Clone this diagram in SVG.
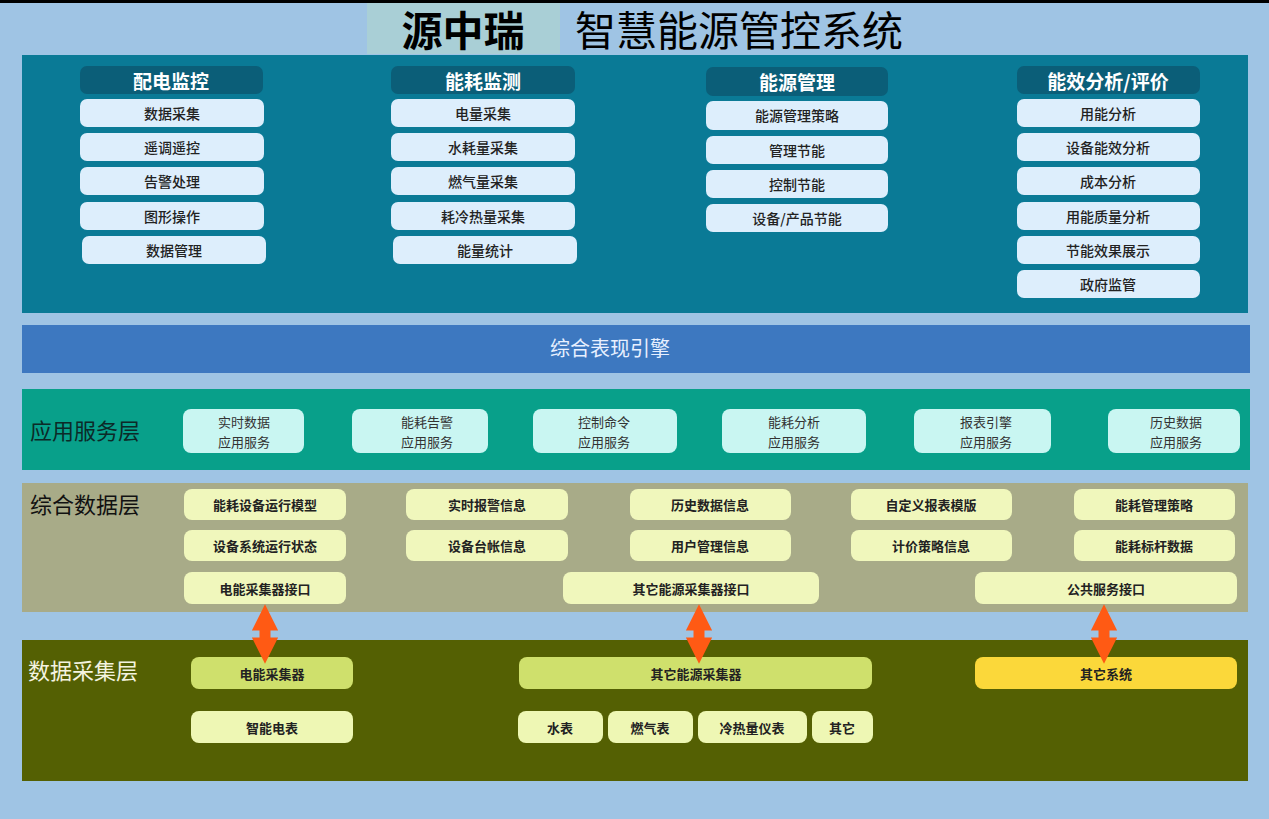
<svg xmlns="http://www.w3.org/2000/svg" width="1269" height="819" viewBox="0 0 1269 819">
<defs>
<style>
text{font-family:"Noto Sans CJK SC","Noto Sans",sans-serif;text-anchor:middle;dominant-baseline:central}
.hd rect{fill:#0b5e78}.hd text{fill:#fff;font-size:19px;font-weight:bold}
.it rect{fill:#ddeefc}.it text{fill:#222;font-size:14px;font-weight:500}
.ap rect{fill:#c9f6f2}.ap text{fill:#333;font-size:13px}
.dt rect{fill:#f0f7bc}.dt text{fill:#222;font-size:13px;font-weight:bold}
.aq rect{fill:#cfe06c}.aq text{fill:#222;font-size:13px;font-weight:bold}
.aq2 rect{fill:#eef7b4}.aq2 text{fill:#222;font-size:13px;font-weight:bold}
.lbl{font-size:22px;text-anchor:start}
</style>
<marker id="ah" viewBox="0 0 10 10" refX="4" refY="5" markerWidth="2.4" markerHeight="2.4" orient="auto-start-reverse"><path d="M0,0L10,5L0,10Z" fill="#ff5a14"/></marker>
</defs>
<rect width="1269" height="819" fill="#9fc4e4"/>
<rect width="1269" height="3" fill="#000"/>
<g id="title">
<rect x="367" y="3" width="193" height="51" fill="#a9cfd6"/>
<text x="463" y="28" font-size="41" font-weight="bold" fill="#000">源中瑞</text>
<text x="739" y="28" font-size="41" fill="#000">智慧能源管控系统</text>
</g>
<rect x="22" y="55" width="1226" height="258" fill="#0a7a96"/>
<g id="col1">
<g class="hd"><rect x="80" y="66" width="183" height="28" rx="7"/><text x="171" y="80">配电监控</text></g>
<g class="it"><rect x="80" y="99" width="184" height="28" rx="7"/><text x="172" y="113">数据采集</text></g>
<g class="it"><rect x="80" y="133" width="184" height="28" rx="7"/><text x="172" y="147">遥调遥控</text></g>
<g class="it"><rect x="80" y="167" width="184" height="28" rx="7"/><text x="172" y="181">告警处理</text></g>
<g class="it"><rect x="80" y="202" width="184" height="28" rx="7"/><text x="172" y="216">图形操作</text></g>
<g class="it"><rect x="82" y="236" width="184" height="28" rx="7"/><text x="174" y="250">数据管理</text></g>
</g>
<g id="col2">
<g class="hd"><rect x="391" y="66" width="184" height="28" rx="7"/><text x="483" y="80">能耗监测</text></g>
<g class="it"><rect x="391" y="99" width="184" height="28" rx="7"/><text x="483" y="113">电量采集</text></g>
<g class="it"><rect x="391" y="133" width="184" height="28" rx="7"/><text x="483" y="147">水耗量采集</text></g>
<g class="it"><rect x="391" y="167" width="184" height="28" rx="7"/><text x="483" y="181">燃气量采集</text></g>
<g class="it"><rect x="391" y="202" width="184" height="28" rx="7"/><text x="483" y="216">耗冷热量采集</text></g>
<g class="it"><rect x="393" y="236" width="184" height="28" rx="7"/><text x="485" y="250">能量统计</text></g>
</g>
<g id="col3">
<g class="hd"><rect x="706" y="67" width="182" height="29" rx="7"/><text x="797" y="81">能源管理</text></g>
<g class="it"><rect x="706" y="101" width="182" height="29" rx="7"/><text x="797" y="115">能源管理策略</text></g>
<g class="it"><rect x="706" y="136" width="182" height="28" rx="7"/><text x="797" y="150">管理节能</text></g>
<g class="it"><rect x="706" y="170" width="182" height="28" rx="7"/><text x="797" y="184">控制节能</text></g>
<g class="it"><rect x="706" y="204" width="182" height="28" rx="7"/><text x="797" y="218">设备/产品节能</text></g>
</g>
<g id="col4">
<g class="hd"><rect x="1017" y="66" width="183" height="28" rx="7"/><text x="1108" y="80">能效分析/评价</text></g>
<g class="it"><rect x="1017" y="99" width="183" height="28" rx="7"/><text x="1108" y="113">用能分析</text></g>
<g class="it"><rect x="1017" y="133" width="183" height="28" rx="7"/><text x="1108" y="147">设备能效分析</text></g>
<g class="it"><rect x="1017" y="167" width="183" height="28" rx="7"/><text x="1108" y="181">成本分析</text></g>
<g class="it"><rect x="1017" y="202" width="183" height="28" rx="7"/><text x="1108" y="216">用能质量分析</text></g>
<g class="it"><rect x="1017" y="236" width="183" height="28" rx="7"/><text x="1108" y="250">节能效果展示</text></g>
<g class="it"><rect x="1017" y="270" width="183" height="28" rx="7"/><text x="1108" y="284">政府监管</text></g>
</g>
<g id="engine"><rect x="22" y="325" width="1228" height="48" fill="#3d78c0"/><text x="610" y="347" font-size="20" fill="#e8f0ff">综合表现引擎</text></g>
<g id="app">
<rect x="22" y="389" width="1228" height="81" fill="#08a08a"/>
<text class="lbl" x="30" y="429" fill="#0c2a28">应用服务层</text>
<g class="ap"><rect x="183" y="409" width="121" height="44" rx="8"/><text x="244" y="421">实时数据</text><text x="244" y="441">应用服务</text></g>
<g class="ap"><rect x="352" y="409" width="136" height="44" rx="8"/><text x="427" y="421">能耗告警</text><text x="427" y="441">应用服务</text></g>
<g class="ap"><rect x="533" y="409" width="144" height="44" rx="8"/><text x="604" y="421">控制命令</text><text x="604" y="441">应用服务</text></g>
<g class="ap"><rect x="722" y="409" width="144" height="44" rx="8"/><text x="794" y="421">能耗分析</text><text x="794" y="441">应用服务</text></g>
<g class="ap"><rect x="914" y="409" width="137" height="44" rx="8"/><text x="986" y="421">报表引擎</text><text x="986" y="441">应用服务</text></g>
<g class="ap"><rect x="1108" y="409" width="132" height="44" rx="8"/><text x="1176" y="421">历史数据</text><text x="1176" y="441">应用服务</text></g>
</g>
<g id="data">
<rect x="22" y="483" width="1226" height="129" fill="#a8ab88"/>
<text class="lbl" x="30" y="503" fill="#111">综合数据层</text>
<g class="dt"><rect x="184" y="489" width="162" height="31" rx="8"/><text x="265" y="504">能耗设备运行模型</text></g>
<g class="dt"><rect x="406" y="489" width="162" height="31" rx="8"/><text x="487" y="504">实时报警信息</text></g>
<g class="dt"><rect x="630" y="489" width="161" height="31" rx="8"/><text x="710" y="504">历史数据信息</text></g>
<g class="dt"><rect x="851" y="489" width="161" height="31" rx="8"/><text x="931" y="504">自定义报表模版</text></g>
<g class="dt"><rect x="1074" y="489" width="161" height="31" rx="8"/><text x="1154" y="504">能耗管理策略</text></g>
<g class="dt"><rect x="184" y="530" width="162" height="31" rx="8"/><text x="265" y="545">设备系统运行状态</text></g>
<g class="dt"><rect x="406" y="530" width="162" height="31" rx="8"/><text x="487" y="545">设备台帐信息</text></g>
<g class="dt"><rect x="630" y="530" width="161" height="31" rx="8"/><text x="710" y="545">用户管理信息</text></g>
<g class="dt"><rect x="851" y="530" width="161" height="31" rx="8"/><text x="931" y="545">计价策略信息</text></g>
<g class="dt"><rect x="1074" y="530" width="161" height="31" rx="8"/><text x="1154" y="545">能耗标杆数据</text></g>
<g class="dt"><rect x="184" y="572" width="162" height="32" rx="8"/><text x="265" y="588">电能采集器接口</text></g>
<g class="dt"><rect x="563" y="572" width="256" height="32" rx="8"/><text x="691" y="588">其它能源采集器接口</text></g>
<g class="dt"><rect x="975" y="572" width="262" height="32" rx="8"/><text x="1106" y="588">公共服务接口</text></g>
</g>
<g id="acq">
<rect x="22" y="640" width="1226" height="141" fill="#546003"/>
<text class="lbl" x="28" y="669" fill="#f4f4e0">数据采集层</text>
<g class="aq"><rect x="191" y="657" width="162" height="32" rx="8"/><text x="272" y="673">电能采集器</text></g>
<g class="aq"><rect x="519" y="657" width="353" height="32" rx="8"/><text x="696" y="673">其它能源采集器</text></g>
<g class="aq" id="other"><rect x="975" y="657" width="262" height="32" rx="8" style="fill:#fbd83a"/><text x="1106" y="673">其它系统</text></g>
<g class="aq2"><rect x="191" y="711" width="162" height="32" rx="8"/><text x="272" y="727">智能电表</text></g>
<g class="aq2"><rect x="518" y="711" width="85" height="32" rx="8"/><text x="560" y="727">水表</text></g>
<g class="aq2"><rect x="608" y="711" width="85" height="32" rx="8"/><text x="650" y="727">燃气表</text></g>
<g class="aq2"><rect x="698" y="711" width="109" height="32" rx="8"/><text x="752" y="727">冷热量仪表</text></g>
<g class="aq2"><rect x="812" y="711" width="61" height="32" rx="8"/><text x="842" y="727">其它</text></g>
</g>
<g id="connectors" stroke="#ff5a14" stroke-width="11" marker-start="url(#ah)" marker-end="url(#ah)">
<line x1="265" y1="620" x2="265" y2="648"/>
<line x1="699" y1="620" x2="699" y2="648"/>
<line x1="1104" y1="620" x2="1104" y2="648"/>
</g>
</svg>
